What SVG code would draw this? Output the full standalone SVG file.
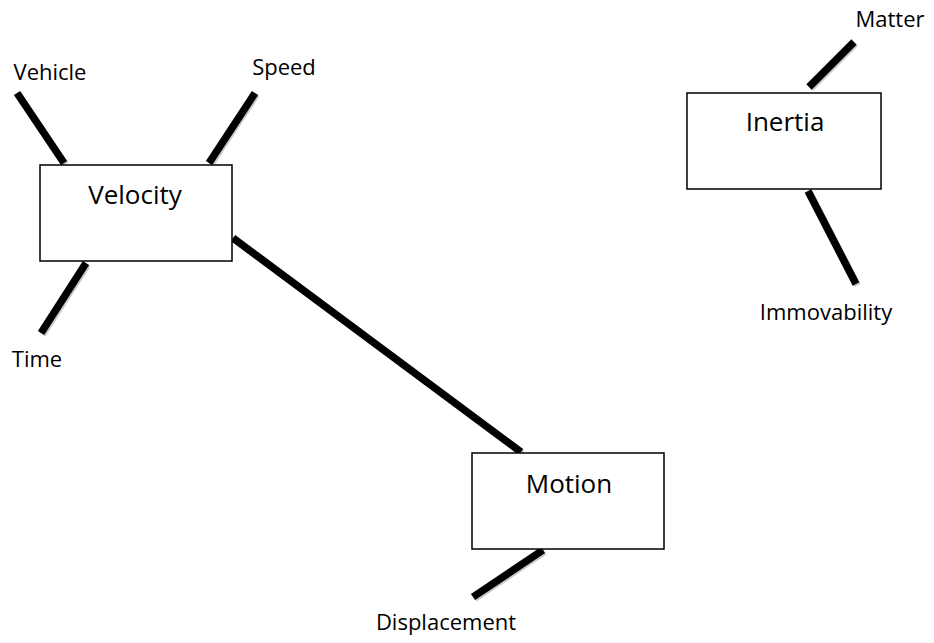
<svg xmlns="http://www.w3.org/2000/svg" width="934" height="643" viewBox="0 0 934 643">
<style>
.box{fill:#fff;stroke:#000;stroke-width:1.5}
.ln{stroke:#000;stroke-width:7.5;stroke-linecap:butt}
.sh{stroke:#c8c8c8;stroke-width:7}
.lbl{font-family:"Open Sans","Liberation Sans",sans-serif;font-size:22px;fill:#000;text-anchor:middle}
.ttl{font-family:"Open Sans","Liberation Sans",sans-serif;font-size:26px;fill:#000;text-anchor:middle}
</style>
<rect width="934" height="643" fill="#fff"/>
<g id="connectors">
<g transform="translate(1.5,1.5)">
<line class="sh" x1="17" y1="93" x2="64" y2="163"/>
<line class="sh" x1="255" y1="93" x2="209" y2="163"/>
<line class="sh" x1="86" y1="263" x2="41" y2="333"/>
<line class="sh" x1="233" y1="238" x2="521" y2="452"/>
<line class="sh" x1="854" y1="42" x2="809" y2="87"/>
<line class="sh" x1="808" y1="191" x2="856" y2="284"/>
<line class="sh" x1="543" y1="550" x2="473" y2="597"/>
</g>
<line class="ln" x1="17" y1="93" x2="64" y2="163"/>
<line class="ln" x1="255" y1="93" x2="209" y2="163"/>
<line class="ln" x1="86" y1="263" x2="41" y2="333"/>
<line class="ln" x1="233" y1="238" x2="521" y2="452"/>
<line class="ln" x1="854" y1="42" x2="809" y2="87"/>
<line class="ln" x1="808" y1="191" x2="856" y2="284"/>
<line class="ln" x1="543" y1="550" x2="473" y2="597"/>
</g>
<g id="velocity"><rect class="box" x="40" y="165" width="192" height="96"/><text class="ttl" x="135" y="204">Velocity</text></g>
<g id="inertia"><rect class="box" x="687" y="93" width="194" height="96"/><text class="ttl" x="785" y="131">Inertia</text></g>
<g id="motion"><rect class="box" x="472" y="453" width="192" height="96"/><text class="ttl" x="569" y="493">Motion</text></g>
<g id="vehicle"><text class="lbl" x="50" y="80">Vehicle</text></g>
<g id="speed"><text class="lbl" x="284" y="75">Speed</text></g>
<g id="time"><text class="lbl" x="37" y="367">Time</text></g>
<g id="matter"><text class="lbl" x="890" y="27">Matter</text></g>
<g id="immovability"><text class="lbl" x="826" y="320">Immovability</text></g>
<g id="displacement"><text class="lbl" x="446" y="630">Displacement</text></g>
</svg>
